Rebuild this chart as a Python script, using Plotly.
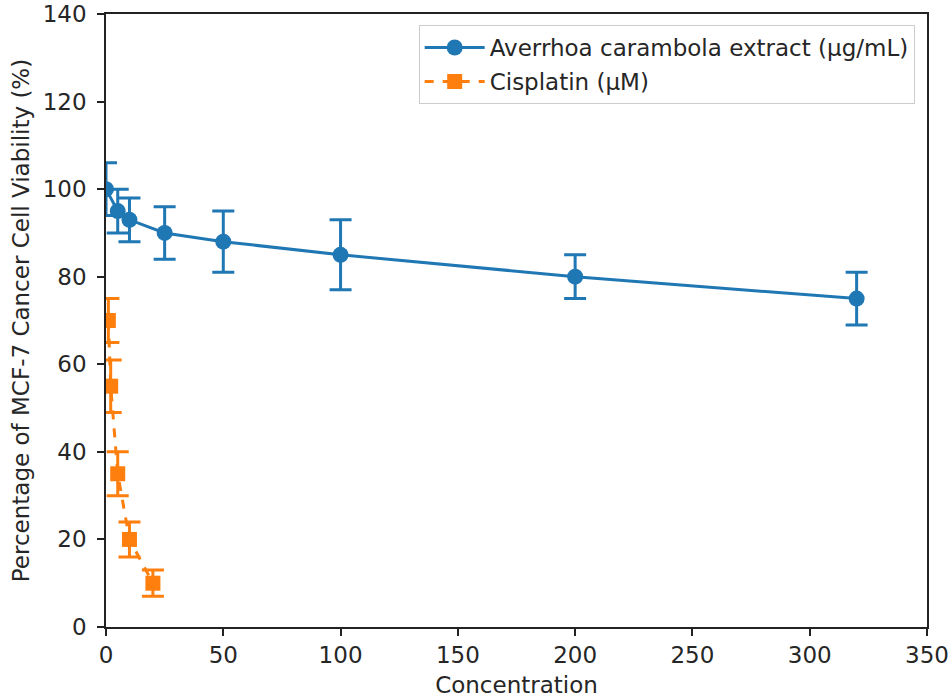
import plotly.graph_objects as go

# Data
extract_conc = [0, 5, 10, 25, 50, 100, 200, 320]
extract_viability = [100, 95, 93, 90, 88, 85, 80, 75]
extract_err = [6, 5, 5, 6, 7, 8, 5, 6]

cis_conc = [1, 2, 5, 10, 20]
cis_viability = [70, 55, 35, 20, 10]
cis_err = [5, 6, 5, 4, 3]

x_ticks = [0, 50, 100, 150, 200, 250, 300, 350]
y_ticks = [0, 20, 40, 60, 80, 100, 120, 140]

blue = "#1f77b4"
orange = "#ff7f0e"
FONT = "DejaVu Sans"
FS = 23
TXT = "#262626"

fig = go.Figure()
fig.add_trace(go.Scatter(
    x=extract_conc, y=extract_viability,
    mode="lines+markers",
    name="Averrhoa carambola extract (µg/mL)",
    legendgroup="a",
    line=dict(color=blue, width=3),
    marker=dict(color=blue, size=16, symbol="circle"),
    error_y=dict(type="data", array=extract_err, visible=True,
                 thickness=3, width=11, color=blue),
))
fig.add_trace(go.Scatter(
    x=cis_conc, y=cis_viability,
    mode="lines+markers",
    name="Cisplatin (µM)",
    legendgroup="b",
    line=dict(color=orange, width=3, dash="dash"),
    marker=dict(color=orange, size=15, symbol="square"),
    error_y=dict(type="data", array=cis_err, visible=True,
                 thickness=3, width=11, color=orange),
))

axis_common = dict(
    showgrid=False, zeroline=False, automargin=False,
    showline=True, linecolor="#222", linewidth=1.5, mirror=True,
    ticks="outside", ticklen=7, tickwidth=1.5, tickcolor="#222",
    tickfont=dict(family=FONT, size=FS, color=TXT),
)

fig.update_xaxes(
    range=[0, 350], tickvals=x_ticks,
    title=dict(text="Concentration", font=dict(family=FONT, size=FS, color=TXT), standoff=10),
    **axis_common,
)
fig.update_yaxes(
    range=[0, 140], tickvals=y_ticks, ticklabelstandoff=6,
    title=dict(text="Percentage of MCF-7 Cancer Cell Viability (%)",
               font=dict(family=FONT, size=FS, color=TXT), standoff=7),
    **axis_common,
)

fig.update_layout(
    width=950, height=700,
    margin=dict(l=106, r=23, t=14, b=73, autoexpand=False),
    paper_bgcolor="white", plot_bgcolor="white",
    font=dict(family=FONT, size=FS, color=TXT),
    legend=dict(
        x=0.985, y=0.982, xanchor="right", yanchor="top",
        bordercolor="#cccccc", borderwidth=1,
        bgcolor="rgba(255,255,255,0.85)",
        font=dict(family=FONT, size=FS, color=TXT),
        tracegroupgap=1, itemwidth=60,
    ),
    showlegend=True,
)

fig.write_html(
    "out.html",
    config={"displayModeBar": False},
    post_script="document.body.style.margin='0';document.body.style.overflow='hidden';",
)
